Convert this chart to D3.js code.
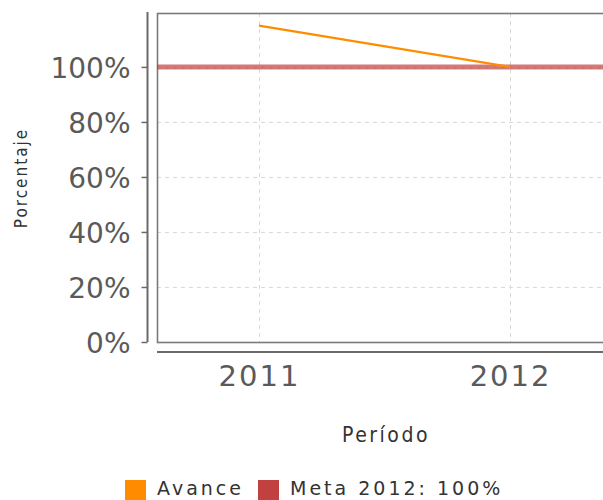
<!DOCTYPE html>
<html><head><meta charset="utf-8">
<script src="https://cdn.jsdelivr.net/npm/d3@7"></script>
<style>body{margin:0;background:#fff}svg{display:block}</style>
</head><body><div id="c"></div>
<script>
const categories = ["2011", "2012"];
const avance = [115, 100];
const meta = 100;
const yTicks = [0, 20, 40, 60, 80, 100];
const seriesNames = ["Avance", "Meta 2012: 100%"];
const seriesColors = ["#ff8c00", "#c0413f"];

const W = 603, H = 500;
const plot = {left: 157, top: 13, right: 612, bottom: 342};
const svg = d3.select("#c").append("svg").attr("width", W).attr("height", H);

const x = d3.scalePoint().domain(categories).range([plot.left, plot.right]).padding(0.406);
const y = d3.scaleLinear().domain([0, 119.6]).range([plot.bottom, plot.top]);

// gridlines
const g = svg.append("g");
g.selectAll(".hg").data(yTicks.filter(d => d > 0)).enter().append("line")
  .attr("x1", plot.left).attr("x2", plot.right)
  .attr("y1", d => y(d) + 0.5).attr("y2", d => y(d) + 0.5)
  .attr("stroke", "#d8d8d8").attr("stroke-dasharray", "4,4").attr("stroke-width", 1);
g.selectAll(".vg").data(categories).enter().append("line")
  .attr("x1", d => Math.round(x(d)) + 0.5).attr("x2", d => Math.round(x(d)) + 0.5)
  .attr("y1", plot.top).attr("y2", plot.bottom)
  .attr("stroke", "#d8d8d8").attr("stroke-dasharray", "4,4").attr("stroke-width", 1);

// plot border
svg.append("rect").attr("x", plot.left + 0.5).attr("y", plot.top + 0.5)
  .attr("width", plot.right - plot.left).attr("height", plot.bottom - plot.top)
  .attr("fill", "none").attr("stroke", "#7a7a7a").attr("stroke-width", 1.6);

// meta line
svg.append("line").attr("x1", plot.left).attr("x2", plot.right)
  .attr("y1", y(meta)).attr("y2", y(meta))
  .attr("stroke", seriesColors[1]).attr("stroke-opacity", 0.7).attr("stroke-width", 5);

// avance line
const line = d3.line().x((d, i) => x(categories[i])).y(d => y(d));
svg.append("path").datum(avance).attr("d", line)
  .attr("fill", "none").attr("stroke", seriesColors[0]).attr("stroke-width", 2.2);

// y axis
const yAxis = d3.axisLeft(y).tickValues(yTicks).tickFormat(d => d + "%").tickSize(6).tickPadding(11);
const ya = svg.append("g").attr("transform", "translate(147.5,0)").call(yAxis);
ya.select(".domain").attr("d", `M-0,${plot.top - 1}V${plot.bottom}`).attr("stroke", "#6a6a6a").attr("stroke-width", 2);
ya.selectAll(".tick line").attr("stroke", "#6a6a6a").attr("stroke-width", 1.5);
ya.selectAll(".tick text").attr("font-family", "DejaVu Sans").attr("font-size", 28)
  .attr("fill", "#5a5a5a").attr("dy", "0.36em");

// x axis
const xAxis = d3.axisBottom(x).tickSize(0).tickPadding(30);
const xa = svg.append("g").attr("transform", "translate(0,352)").call(xAxis);
xa.select(".domain").attr("d", `M${plot.left},0H${plot.right}`).attr("stroke", "#6a6a6a").attr("stroke-width", 2);
xa.selectAll(".tick text").attr("font-family", "DejaVu Sans").attr("font-size", 29)
  .attr("letter-spacing", "2px").attr("fill", "#5a5a5a").attr("dy", "0.15em");

// axis titles
svg.append("text").attr("x", 386).attr("y", 442).attr("text-anchor", "middle")
  .attr("font-family", "DejaVu Sans Condensed").attr("font-size", 21).attr("letter-spacing", "2.5px")
  .attr("fill", "#333").text("Período");
svg.append("text").attr("transform", "translate(27,178) rotate(-90)").attr("text-anchor", "middle")
  .attr("font-family", "DejaVu Sans Condensed").attr("font-size", 17).attr("letter-spacing", "2px")
  .attr("fill", "#333").text("Porcentaje");

// legend
const legendX = [125, 258];
const lg = svg.append("g");
seriesNames.forEach((n, i) => {
  lg.append("rect").attr("x", legendX[i]).attr("y", 480).attr("width", 21).attr("height", 21)
    .attr("fill", seriesColors[i]);
  lg.append("text").attr("x", legendX[i] + 32).attr("y", 495)
    .attr("font-family", "DejaVu Sans").attr("font-size", 19).attr("letter-spacing", "3px")
    .attr("fill", "#333").text(n);
});
</script></body></html>
